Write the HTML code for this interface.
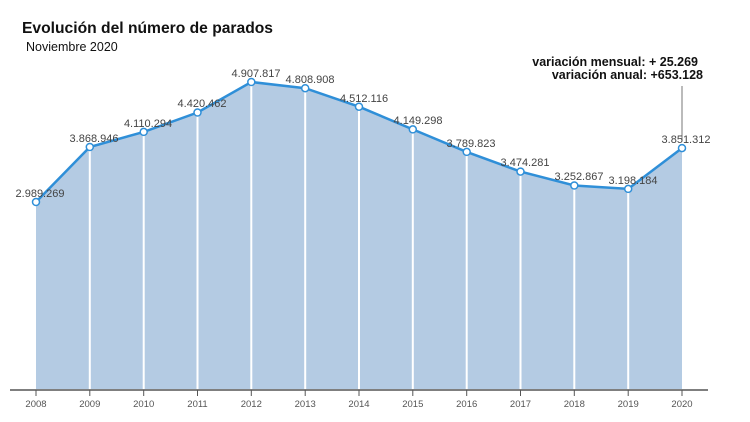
<!DOCTYPE html>
<html><head><meta charset="utf-8"><style>
body{margin:0;background:#fff;}
svg{display:block;font-family:"Liberation Sans",sans-serif;}
</style></head><body>
<svg width="750" height="422" viewBox="0 0 750 422">
<text x="22" y="33" font-size="16" font-weight="bold" fill="#111" textLength="251" lengthAdjust="spacingAndGlyphs">Evolución del número de parados</text>
<text x="26" y="51" font-size="12.5" fill="#111">Noviembre 2020</text>
<text x="698" y="66" font-size="12.5" font-weight="bold" fill="#111" text-anchor="end">variación mensual:  + 25.269</text>
<text x="703" y="79" font-size="12.5" font-weight="bold" fill="#111" text-anchor="end">variación anual:  +653.128</text>
<line x1="682" y1="86" x2="682" y2="140" stroke="#777" stroke-width="1"/>
<polygon fill="#b4cbe3" points="36,389 36,202 89.8,147 143.7,131.9 197.5,112.5 251.3,82 305.2,88.2 359,106.7 412.8,129.4 466.7,151.9 520.5,171.6 574.3,185.5 628.2,188.9 682,148.1 682,389"/>
<g stroke="#fff" stroke-width="2">
<line x1="89.8" y1="147" x2="89.8" y2="389"/><line x1="143.7" y1="132" x2="143.7" y2="389"/><line x1="197.5" y1="112" x2="197.5" y2="389"/><line x1="251.3" y1="82" x2="251.3" y2="389"/><line x1="305.2" y1="88" x2="305.2" y2="389"/><line x1="359" y1="107" x2="359" y2="389"/><line x1="412.8" y1="129" x2="412.8" y2="389"/><line x1="466.7" y1="152" x2="466.7" y2="389"/><line x1="520.5" y1="172" x2="520.5" y2="389"/><line x1="574.3" y1="185" x2="574.3" y2="389"/><line x1="628.2" y1="189" x2="628.2" y2="389"/>
</g>
<polyline fill="none" stroke="#2f8fd8" stroke-width="2.5" points="36,202 89.8,147 143.7,131.9 197.5,112.5 251.3,82 305.2,88.2 359,106.7 412.8,129.4 466.7,151.9 520.5,171.6 574.3,185.5 628.2,188.9 682,148.1"/>
<g fill="#fff" stroke="#2f8fd8" stroke-width="1.5">
<circle cx="36" cy="202" r="3.5"/><circle cx="89.8" cy="147" r="3.5"/><circle cx="143.7" cy="131.9" r="3.5"/><circle cx="197.5" cy="112.5" r="3.5"/><circle cx="251.3" cy="82" r="3.5"/><circle cx="305.2" cy="88.2" r="3.5"/><circle cx="359" cy="106.7" r="3.5"/><circle cx="412.8" cy="129.4" r="3.5"/><circle cx="466.7" cy="151.9" r="3.5"/><circle cx="520.5" cy="171.6" r="3.5"/><circle cx="574.3" cy="185.5" r="3.5"/><circle cx="628.2" cy="188.9" r="3.5"/><circle cx="682" cy="148.1" r="3.5"/>
</g>
<g font-size="11" fill="#444" text-anchor="middle">
<text x="40" y="197">2.989.269</text><text x="94" y="142">3.868.946</text><text x="148" y="127">4.110.294</text><text x="202" y="107">4.420.462</text><text x="256" y="77">4.907.817</text><text x="310" y="83">4.808.908</text><text x="364" y="102">4.512.116</text><text x="418" y="124">4.149.298</text><text x="471" y="147">3.789.823</text><text x="525" y="166">3.474.281</text><text x="579" y="180">3.252.867</text><text x="633" y="184">3.198.184</text><text x="686" y="143">3.851.312</text>
</g>
<line x1="10" y1="390" x2="708" y2="390" stroke="#555" stroke-width="1.5"/>
<g stroke="#555" stroke-width="1">
<line x1="36" y1="390" x2="36" y2="396"/><line x1="89.8" y1="390" x2="89.8" y2="396"/><line x1="143.7" y1="390" x2="143.7" y2="396"/><line x1="197.5" y1="390" x2="197.5" y2="396"/><line x1="251.3" y1="390" x2="251.3" y2="396"/><line x1="305.2" y1="390" x2="305.2" y2="396"/><line x1="359" y1="390" x2="359" y2="396"/><line x1="412.8" y1="390" x2="412.8" y2="396"/><line x1="466.7" y1="390" x2="466.7" y2="396"/><line x1="520.5" y1="390" x2="520.5" y2="396"/><line x1="574.3" y1="390" x2="574.3" y2="396"/><line x1="628.2" y1="390" x2="628.2" y2="396"/><line x1="682" y1="390" x2="682" y2="396"/>
</g>
<g font-size="9.5" fill="#555" text-anchor="middle">
<text x="36" y="407">2008</text><text x="89.8" y="407">2009</text><text x="143.7" y="407">2010</text><text x="197.5" y="407">2011</text><text x="251.3" y="407">2012</text><text x="305.2" y="407">2013</text><text x="359" y="407">2014</text><text x="412.8" y="407">2015</text><text x="466.7" y="407">2016</text><text x="520.5" y="407">2017</text><text x="574.3" y="407">2018</text><text x="628.2" y="407">2019</text><text x="682" y="407">2020</text>
</g>
</svg>
</body></html>
